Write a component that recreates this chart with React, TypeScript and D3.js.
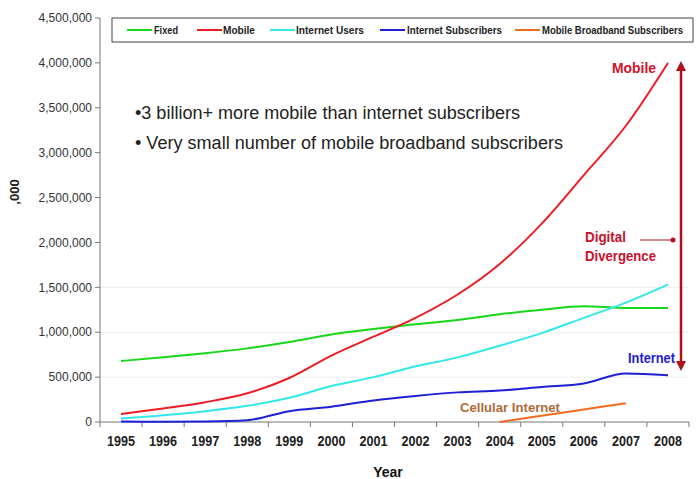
import React from "react";
import * as d3 from "d3";

const years = ["1995","1996","1997","1998","1999","2000","2001","2002","2003","2004","2005","2006","2007","2008"];
const fixed = [680000,720000,765000,820000,890000,975000,1035000,1090000,1135000,1200000,1250000,1290000,1270000,1270000];
const mobile = [90000,150000,220000,320000,490000,740000,950000,1160000,1420000,1760000,2210000,2750000,3300000,4000000];
const internetUsers = [40000,75000,120000,180000,270000,400000,500000,620000,720000,850000,990000,1160000,1330000,1530000];
const internetSubs = [5000,3000,6000,20000,120000,170000,240000,290000,330000,350000,390000,430000,540000,520000];
const mobileBroadbandYears = ["2004","2005","2006","2007"];
const mobileBroadband = [0,70000,140000,210000];
const yTicks = [0,500000,1000000,1500000,2000000,2500000,3000000,3500000,4000000,4500000];
const gridTicks = [500000,1000000,1500000];

const seriesNames = ["Fixed","Mobile","Internet Users","Internet Subscribers","Mobile Broadband Subscribers"];
const seriesColors = ["#19d619","#ee1c24","#33e8e8","#1f1fd6","#f26b1d"];

export default function App() {
  const W = 699, H = 479;
  const left = 100, right = 689, top = 18, bottom = 422;
  const x = d3.scaleBand<string>().domain(years).range([left, right]).padding(0);
  const y = d3.scaleLinear().domain([0, 4500000]).range([bottom, top]);
  const cx = (yr: string) => (x(yr) as number) + x.bandwidth() / 2;
  const line = d3.line<[string, number]>().x(d => cx(d[0])).y(d => y(d[1])).curve(d3.curveMonotoneX);
  const series: [string, number][][] = [
    years.map((yr, i) => [yr, fixed[i]]),
    years.map((yr, i) => [yr, mobile[i]]),
    years.map((yr, i) => [yr, internetUsers[i]]),
    years.map((yr, i) => [yr, internetSubs[i]]),
    mobileBroadbandYears.map((yr, i) => [yr, mobileBroadband[i]]),
  ];
  const arial = "'Liberation Sans', Arial, sans-serif";
  const legendItems = [
    { lx: 127, tx: 154, tw: 24 },
    { lx: 197, tx: 223, tw: 32 },
    { lx: 270, tx: 296, tw: 68 },
    { lx: 380, tx: 407, tw: 95 },
    { lx: 515, tx: 542, tw: 141 },
  ];
  const darkRed = "#b0101c";
  const arrowX = 681;
  return (
    <svg width={W} height={H} style={{ position: "absolute", left: 0, top: 0, background: "#fff" }}>
      <defs>
        <marker id="ah" viewBox="0 0 10 10" refX="5" refY="5" markerWidth="4" markerHeight="4" orient="auto-start-reverse">
          <path d="M0,0 L10,5 L0,10 z" fill={darkRed} />
        </marker>
      </defs>
      {gridTicks.map(t => (
        <line key={t} x1={left} x2={right} y1={y(t)} y2={y(t)} stroke="#ececec" strokeWidth={1} />
      ))}
      {/* axes */}
      <line x1={left} x2={left} y1={top} y2={bottom} stroke="#777" />
      <line x1={left} x2={right} y1={bottom} y2={bottom} stroke="#777" />
      {yTicks.map(t => (
        <g key={t}>
          <line x1={left - 5} x2={left} y1={y(t)} y2={y(t)} stroke="#777" />
          <text x={left - 8} y={y(t)} dy="0.35em" textAnchor="end" fontFamily={arial} fontSize={12} fill="#333">
            {d3.format(",")(t)}
          </text>
        </g>
      ))}
      {years.map((yr) => (
        <g key={yr}>
          <line x1={(x(yr) as number) + x.bandwidth()} x2={(x(yr) as number) + x.bandwidth()} y1={bottom} y2={bottom + 5} stroke="#777" />
          <text x={cx(yr) - 14} y={bottom + 24} textLength={28} lengthAdjust="spacingAndGlyphs" fontFamily={arial} fontWeight="bold" fontSize={14} fill="#222">
            {yr}
          </text>
        </g>
      ))}
      <line x1={left} x2={left} y1={bottom} y2={bottom + 5} stroke="#777" />
      <text x={388} y={477} textAnchor="middle" fontFamily={arial} fontWeight="bold" fontSize={14} fill="#111">Year</text>
      <text transform={`translate(19,192) rotate(-90)`} textAnchor="middle" fontFamily={arial} fontWeight="bold" fontSize={13} fill="#222">,000</text>

      {/* lines */}
      {series.map((s, i) => (
        <path key={i} d={line(s) as string} fill="none" stroke={seriesColors[i]} strokeWidth={2} />
      ))}

      {/* legend */}
      <rect x={112} y={18} width={581} height={24} fill="#fff" stroke="#444" strokeWidth={1} />
      {seriesNames.map((n, i) => (
        <g key={n}>
          <line x1={legendItems[i].lx} x2={legendItems[i].lx + 25} y1={30} y2={30} stroke={seriesColors[i]} strokeWidth={2} />
          <text x={legendItems[i].tx} y={30} dy="0.35em" textLength={legendItems[i].tw} lengthAdjust="spacingAndGlyphs" fontFamily={arial} fontWeight="bold" fontSize={10} fill="#222">{n}</text>
        </g>
      ))}

      {/* bullets */}
      <text x={135} y={113} dy="0.35em" textLength={385} lengthAdjust="spacingAndGlyphs" fontFamily={arial} fontSize={18} fill="#222">•3 billion+ more mobile than internet subscribers</text>
      <text x={135} y={143} dy="0.35em" textLength={428} lengthAdjust="spacingAndGlyphs" fontFamily={arial} fontSize={18} fill="#222">• Very small number of mobile broadband subscribers</text>

      {/* annotations */}
      <text x={612} y={68} dy="0.35em" textLength={44} lengthAdjust="spacingAndGlyphs" fontFamily={arial} fontWeight="bold" fontSize={14} fill="#d0102a">Mobile</text>
      <line x1={arrowX} x2={arrowX} y1={66} y2={366} stroke={darkRed} strokeWidth={2.5} markerStart="url(#ah)" markerEnd="url(#ah)" />
      <text x={585} y={237} dy="0.35em" textLength={41} lengthAdjust="spacingAndGlyphs" fontFamily={arial} fontWeight="bold" fontSize={15} fill="#c8102e">Digital</text>
      <text x={585} y={256} dy="0.35em" textLength={71} lengthAdjust="spacingAndGlyphs" fontFamily={arial} fontWeight="bold" fontSize={15} fill="#c8102e">Divergence</text>
      <line x1={640} x2={673} y1={240} y2={240} stroke={darkRed} strokeWidth={1} />
      <circle cx={673} cy={240} r={2.5} fill={darkRed} />
      <text x={628} y={358} dy="0.35em" textLength={47} lengthAdjust="spacingAndGlyphs" fontFamily={arial} fontWeight="bold" fontSize={14} fill="#2020d0">Internet</text>
      <text x={460} y={407} dy="0.35em" textLength={100} lengthAdjust="spacingAndGlyphs" fontFamily={arial} fontWeight="bold" fontSize={13} fill="#b06a3a">Cellular Internet</text>
    </svg>
  );
}
